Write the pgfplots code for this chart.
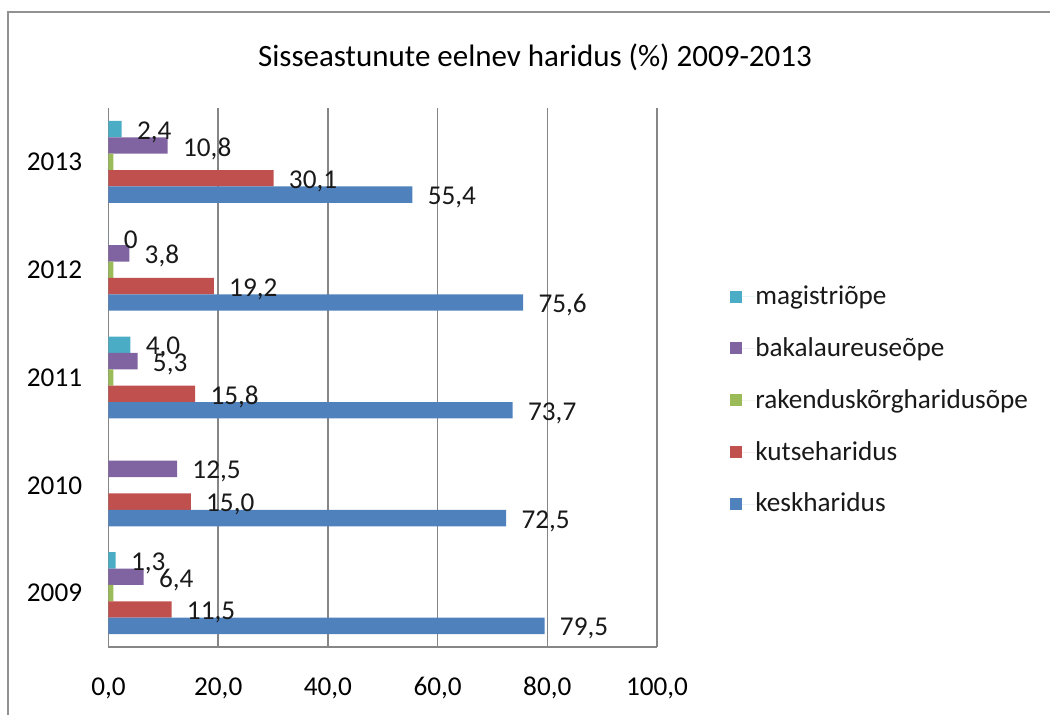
\documentclass[border=0pt]{standalone}
\usepackage{fontspec}
\setmainfont{Carlito}
\usepackage{pgfplots}
\pgfplotsset{compat=1.18}

\definecolor{cBlue}{HTML}{4F81BD}
\definecolor{cRed}{HTML}{C0504D}
\definecolor{cGreen}{HTML}{9BBB59}
\definecolor{cPurple}{HTML}{8064A2}
\definecolor{cAqua}{HTML}{4BACC6}
\definecolor{gridgray}{RGB}{134,134,134}

\begin{document}
\begin{tikzpicture}[font=\fontsize{13.6pt}{16pt}\selectfont]
% 1 px of the reference = 0.5pt, origin at the lower left of the plot area
\path[use as bounding box] (-54.25pt,-34pt) rectangle (470.75pt,323.5pt);
\draw[gridgray!90, line width=1pt] (-50.25pt,-40pt) -- (-50.25pt,317.5pt) -- (480pt,317.5pt);
\node[font=\fontsize{15.5pt}{18pt}\selectfont] at (213.25pt,295pt) {Sisseastunute eelnev haridus (\%) 2009-2013};
\begin{axis}[
    scale only axis,
    width=274.25pt,
    height=269.5pt,
    xbar,
    bar width=0.152,
    xmin=0, xmax=100,
    ymin=2008.5, ymax=2013.5,
    xtick={0,20,40,60,80,100},
    ytick={2009,2010,2011,2012,2013},
    yticklabels={2009,2010,2011,2012,2013},
    xticklabel style={anchor=north, inner sep=0pt, yshift=-15pt,
        /pgf/number format/fixed, /pgf/number format/fixed zerofill,
        /pgf/number format/precision=1, /pgf/number format/use comma,
        /pgf/number format/assume math mode=true},
    yticklabel style={anchor=east, inner sep=0pt, xshift=-13pt},
    major tick length=0pt,
    xmajorgrids=true,
    grid style={gridgray, line width=0.8pt},
    axis line style={gridgray, line width=0.8pt},
    axis x line*=bottom,
    axis y line*=left,
    point meta=explicit symbolic,
    nodes near coords,
    nodes near coords style={anchor=west, inner sep=0pt, xshift=7.5pt, yshift=-1.5pt, text=black!90},
    legend style={draw=none, fill=none, at={(1.133,0.671)}, anchor=north west,
        inner sep=0pt, row sep=15pt, nodes={inner sep=0pt, text=black!90}},
    legend cell align=left,
    legend image code/.code={\fill[#1] (0pt,-3pt) rectangle (6pt,3pt); \path (0pt,0pt) -- (12.5pt,0pt);},
]
\addplot[fill=cAqua, draw=none, bar shift=0.304] coordinates {
    (1.3,2009) [1,3]
    (4.0,2011) [4,0]
    (0,2012) [0]
    (2.4,2013) [2,4]
};
\addplot[fill=cPurple, draw=none, bar shift=0.152] coordinates {
    (6.4,2009) [6,4]
    (12.5,2010) [12,5]
    (5.3,2011) [5,3]
    (3.8,2012) [3,8]
    (10.8,2013) [10,8]
};
\addplot[fill=cGreen, draw=none, bar shift=0] coordinates {
    (0.9,2009) []
    (0.9,2011) []
    (0.9,2012) []
    (0.9,2013) []
};
\addplot[fill=cRed, draw=none, bar shift=-0.152] coordinates {
    (11.5,2009) [11,5]
    (15.0,2010) [15,0]
    (15.8,2011) [15,8]
    (19.2,2012) [19,2]
    (30.1,2013) [30,1]
};
\addplot[fill=cBlue, draw=none, bar shift=-0.304] coordinates {
    (79.5,2009) [79,5]
    (72.5,2010) [72,5]
    (73.7,2011) [73,7]
    (75.6,2012) [75,6]
    (55.4,2013) [55,4]
};
\legend{magistriõpe, bakalaureuseõpe, rakenduskõrgharidusõpe, kutseharidus, keskharidus}
\end{axis}
\end{tikzpicture}
\end{document}
